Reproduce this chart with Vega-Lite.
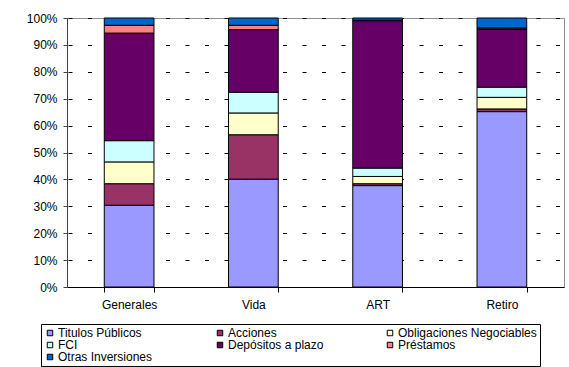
{
  "$schema": "https://vega.github.io/schema/vega-lite/v6.json",
  "width": 497,
  "height": 269,
  "autosize": {"type": "none"},
  "padding": {"left": 67, "top": 18, "right": 5, "bottom": 80},
  "background": "white",
  "config": {
    "font": "Liberation Sans",
    "view": {"stroke": "#909090", "strokeWidth": 1},
    "axis": {"labelFont": "Liberation Sans", "labelFontSize": 12, "labelColor": "#000", "domainColor": "#404040", "tickColor": "#404040", "title": null}
  },
  "data": {
    "values": [
      {"ramo": "Generales", "tipo": "Titulos Públicos", "pct": 30.4},
      {"ramo": "Generales", "tipo": "Acciones", "pct": 8.0},
      {"ramo": "Generales", "tipo": "Obligaciones Negociables", "pct": 8.1},
      {"ramo": "Generales", "tipo": "FCI", "pct": 7.9},
      {"ramo": "Generales", "tipo": "Depósitos a plazo", "pct": 40.0},
      {"ramo": "Generales", "tipo": "Préstamos", "pct": 2.9},
      {"ramo": "Generales", "tipo": "Otras Inversiones", "pct": 2.7},
      {"ramo": "Vida", "tipo": "Titulos Públicos", "pct": 40.1},
      {"ramo": "Vida", "tipo": "Acciones", "pct": 16.5},
      {"ramo": "Vida", "tipo": "Obligaciones Negociables", "pct": 8.1},
      {"ramo": "Vida", "tipo": "FCI", "pct": 7.7},
      {"ramo": "Vida", "tipo": "Depósitos a plazo", "pct": 23.3},
      {"ramo": "Vida", "tipo": "Préstamos", "pct": 1.6},
      {"ramo": "Vida", "tipo": "Otras Inversiones", "pct": 2.7},
      {"ramo": "ART", "tipo": "Titulos Públicos", "pct": 37.7},
      {"ramo": "ART", "tipo": "Acciones", "pct": 0.7},
      {"ramo": "ART", "tipo": "Obligaciones Negociables", "pct": 2.7},
      {"ramo": "ART", "tipo": "FCI", "pct": 3.1},
      {"ramo": "ART", "tipo": "Depósitos a plazo", "pct": 54.8},
      {"ramo": "ART", "tipo": "Préstamos", "pct": 0.2},
      {"ramo": "ART", "tipo": "Otras Inversiones", "pct": 0.8},
      {"ramo": "Retiro", "tipo": "Titulos Públicos", "pct": 65.2},
      {"ramo": "Retiro", "tipo": "Acciones", "pct": 1.0},
      {"ramo": "Retiro", "tipo": "Obligaciones Negociables", "pct": 4.3},
      {"ramo": "Retiro", "tipo": "FCI", "pct": 3.8},
      {"ramo": "Retiro", "tipo": "Depósitos a plazo", "pct": 21.6},
      {"ramo": "Retiro", "tipo": "Préstamos", "pct": 0.4},
      {"ramo": "Retiro", "tipo": "Otras Inversiones", "pct": 3.7}
    ]
  },
  "transform": [
    {"calculate": "indexof(['Titulos Públicos', 'Acciones', 'Obligaciones Negociables', 'FCI', 'Depósitos a plazo', 'Préstamos', 'Otras Inversiones'], datum.tipo)", "as": "orden"}
  ],
  "mark": {"type": "bar", "stroke": "#000", "strokeWidth": 1},
  "encoding": {
    "x": {
      "field": "ramo", "type": "nominal",
      "sort": ["Generales", "Vida", "ART", "Retiro"],
      "scale": {"paddingInner": 0.6, "paddingOuter": 0.3},
      "axis": {"title": null, "labelAngle": 0, "tickBand": "extent", "tickSize": 5, "labelPadding": 7, "domainColor": "#000", "tickColor": "#000"}
    },
    "y": {
      "field": "pct", "type": "quantitative", "stack": "normalize",
      "scale": {"domain": [0, 1]},
      "axis": {"title": null, "values": [0, 0.1, 0.2, 0.3, 0.4, 0.5, 0.6, 0.7, 0.8, 0.9, 1], "format": ".0%", "tickSize": 4, "labelPadding": 6, "grid": true, "gridColor": "#000", "gridDash": [4, 15.5], "gridDashOffset": -1, "domainColor": "#404040"}
    },
    "order": {"field": "orden", "type": "quantitative", "sort": "ascending"},
    "color": {
      "field": "tipo", "type": "nominal",
      "sort": ["Titulos Públicos", "Acciones", "Obligaciones Negociables", "FCI", "Depósitos a plazo", "Préstamos", "Otras Inversiones"],
      "scale": {
        "domain": ["Titulos Públicos", "Acciones", "Obligaciones Negociables", "FCI", "Depósitos a plazo", "Préstamos", "Otras Inversiones"],
        "range": ["#9999FF", "#993366", "#FFFFCC", "#CCFFFF", "#660066", "#FF8080", "#0066CC"]
      },
      "legend": {
        "orient": "none", "legendX": -26, "legendY": 306,
        "direction": "horizontal", "columns": 3, "title": null,
        "symbolType": "square", "symbolSize": 30, "symbolStrokeColor": "#000", "symbolStrokeWidth": 1,
        "labelFont": "Liberation Sans", "labelFontSize": 12, "labelColor": "#000",
        "strokeColor": "#000", "padding": 3, "gridAlign": "all", "columnPadding": 17, "rowPadding": 0,
        "symbolOffset": 0, "labelOffset": 2, "labelLimit": 0
      }
    }
  }
}
